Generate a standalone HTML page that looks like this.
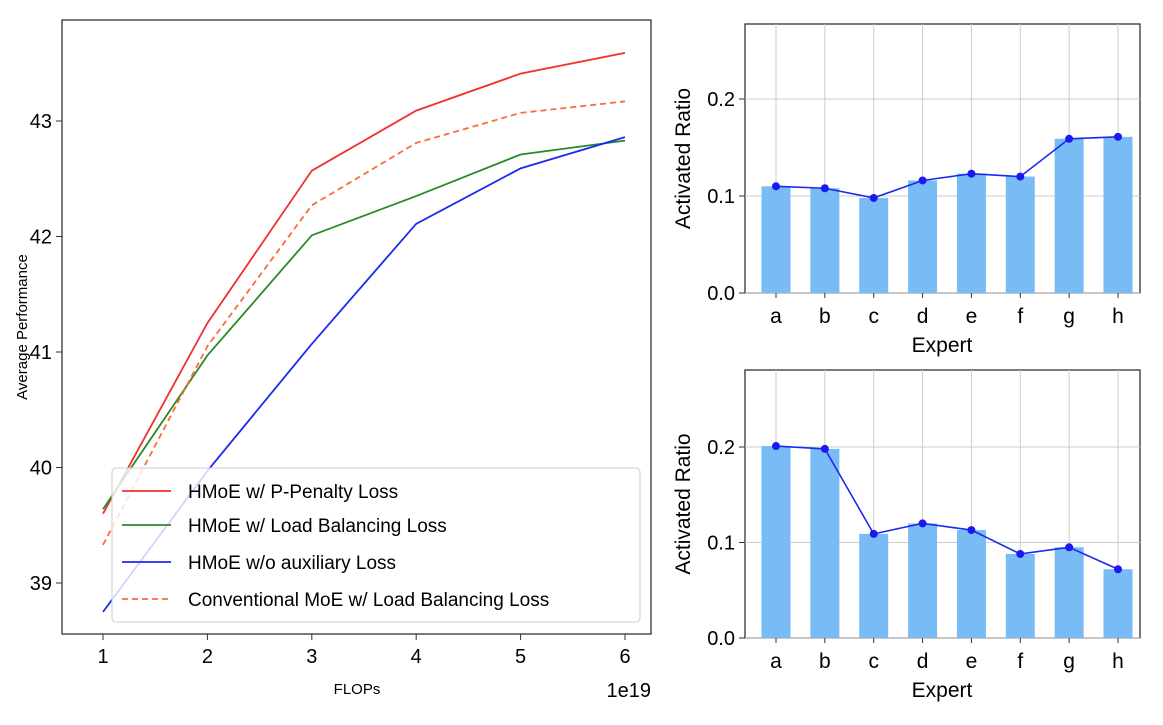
<!DOCTYPE html>
<html><head><meta charset="utf-8"><style>
body{margin:0;background:#fff;width:1163px;height:720px;overflow:hidden}
svg{font-family:"Liberation Sans",sans-serif}
</style></head><body>
<svg id="s" width="1163" height="720"></svg>
<script>
const flops=[1,2,3,4,5,6];
const redVals=[39.6,41.25,42.57,43.09,43.41,43.59];
const greenVals=[39.64,40.97,42.01,42.35,42.71,42.83];
const blueVals=[38.75,39.97,41.07,42.11,42.59,42.86];
const orangeVals=[39.33,41.05,42.27,42.81,43.07,43.17];
const yTicksL=[39,40,41,42,43];
const experts=['a','b','c','d','e','f','g','h'];
const topRatios=[0.110,0.108,0.098,0.116,0.123,0.120,0.159,0.161];
const bottomRatios=[0.201,0.198,0.109,0.120,0.113,0.088,0.095,0.072];
const ratioTicks=[0.0,0.1,0.2];

const S=document.getElementById('s');const NS='http://www.w3.org/2000/svg';
function mk(t,a,txt){const e=document.createElementNS(NS,t);for(const k in a)e.setAttribute(k,a[k]);if(txt!=null)e.textContent=txt;S.appendChild(e);return e;}

// Left chart
const lx=v=>103+(v-1)*(625-103)/5;
const ly=v=>583-(v-39)*(583-121)/4;
let e=mk('rect',{x:62,y:20,width:589,height:614,fill:'none',stroke:'#333','stroke-width':1.3});

flops.forEach(f=>{mk('line',{x1:lx(f),x2:lx(f),y1:634,y2:640,stroke:'#333'});
 e=mk('text',{x:lx(f),y:663,'font-size':20,'text-anchor':'middle'},f);});
yTicksL.forEach(v=>{mk('line',{x1:56,x2:62,y1:ly(v),y2:ly(v),stroke:'#333'});
 e=mk('text',{x:52,y:ly(v)+7,'font-size':20,'text-anchor':'end'},v);});
e=mk('text',{x:357,y:694,'font-size':15,'text-anchor':'middle'},'FLOPs');
e=mk('text',{x:651,y:697,'font-size':20,'text-anchor':'end'},'1e19');
e=mk('text',{x:0,y:0,'font-size':15,'text-anchor':'middle',transform:'translate(27,327) rotate(-90)'},'Average Performance');
const series=[[redVals,'#f03030','',' HMoE w/ P-Penalty Loss','red-line'],[greenVals,'#2a8a2a','','HMoE w/ Load Balancing Loss','green-line'],[blueVals,'#1a2af0','','HMoE w/o auxiliary Loss','blue-line'],[orangeVals,'#ff6a3a','6,4','Conventional MoE w/ Load Balancing Loss','orange-dashed-line']];
series.forEach(s=>{e=mk('polyline',{points:flops.map((f,i)=>lx(f)+','+ly(s[0][i])).join(' '),fill:'none',stroke:s[1],'stroke-width':1.8,'stroke-dasharray':s[2]||'none'});
 });
e=mk('rect',{x:112,y:468,width:528,height:154,rx:4,fill:'rgba(255,255,255,0.8)',stroke:'#ccc'});

const ly0=[491,525,562,599];
series.forEach((s,i)=>{mk('line',{x1:122,x2:171,y1:ly0[i],y2:ly0[i],stroke:s[1],'stroke-width':1.8,'stroke-dasharray':s[2]||'none'});
 e=mk('text',{x:188,y:ly0[i]+7,'font-size':19},s[3].trim());});

// Right charts
const rx=i=>776+i*(1118-776)/7;
function bar(top,bottom,vals,name){
 const ry=v=>bottom-v*(bottom-(bottom-2*(bottom-top)/1))/1;
}
function panel(y0,y2,vals,name,top){ // y0: y of 0.0, y2: y of 0.2
 const ry=v=>y0-v*(y0-y2)/0.2;
 e=mk('rect',{x:745,y:top,width:395,height:y0-top,fill:'none',stroke:'#333','stroke-width':1.3});
 
 experts.forEach((x,i)=>mk('line',{x1:rx(i),x2:rx(i),y1:top,y2:y0,stroke:'#ccc'}));
 ratioTicks.forEach(v=>{mk('line',{x1:745,x2:1140,y1:ry(v),y2:ry(v),stroke:'#ccc'});
  mk('line',{x1:739,x2:745,y1:ry(v),y2:ry(v),stroke:'#333'});
  e=mk('text',{x:735,y:ry(v)+7,'font-size':20,'text-anchor':'end'},v.toFixed(1));});
 vals.forEach((v,i)=>{e=mk('rect',{x:rx(i)-14.5,y:ry(v),width:29,height:y0-ry(v),fill:'#78bbf5'});
  });
 e=mk('polyline',{points:vals.map((v,i)=>rx(i)+','+ry(v)).join(' '),fill:'none',stroke:'#1a2af0','stroke-width':1.6});
 
 vals.forEach((v,i)=>{e=mk('circle',{cx:rx(i),cy:ry(v),r:4,fill:'#1a1af0'});});
 experts.forEach((x,i)=>{mk('line',{x1:rx(i),x2:rx(i),y1:y0,y2:y0+5,stroke:'#333'});
  e=mk('text',{x:rx(i),y:y0+30,'font-size':21,'text-anchor':'middle'},x);});
 e=mk('text',{x:942,y:y0+59,'font-size':21,'text-anchor':'middle'},'Expert');
 e=mk('text',{x:0,y:0,'font-size':21,'text-anchor':'middle',transform:'translate(690,'+((top+y0)/2)+') rotate(-90)'},'Activated Ratio');
}
panel(293,99,topRatios,'top-chart',24);
panel(638,447,bottomRatios,'bottom-chart',370);
</script>
</body></html>
